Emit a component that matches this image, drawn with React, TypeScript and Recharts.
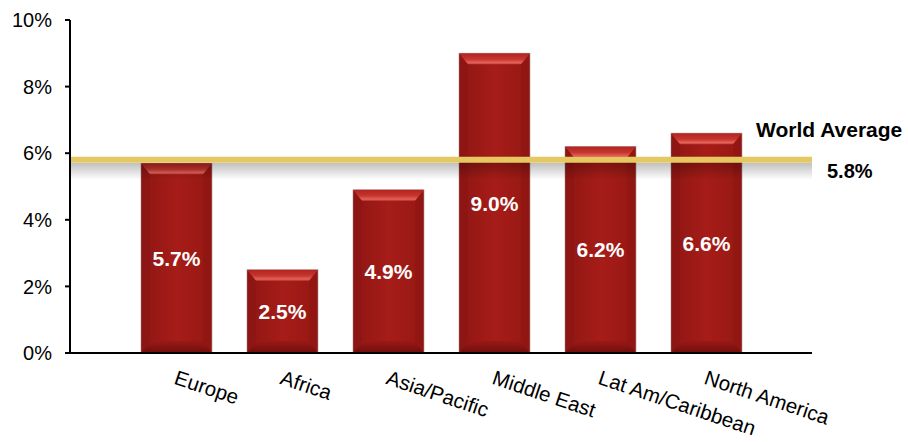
import { Bar, BarChart, LabelList, ReferenceLine, XAxis, YAxis } from 'recharts'

const regions = ['Europe', 'Africa', 'Asia/Pacific', 'Middle East', 'Lat Am/Caribbean', 'North America']
const growth = [5.7, 2.5, 4.9, 9.0, 6.2, 6.6]
const yTicks = [0, 2, 4, 6, 8, 10]
const worldAverage = 5.8
const worldLabel = 'World Average'

const data = regions.map((region, i) => ({ region, value: growth[i] }))

const FONT = '"Liberation Sans", Arial, sans-serif'

// barre rouge biseautée
function BevelBar(props: any) {
  const { x, y, width: w, height: h } = props
  if (!h || h <= 0) return null
  const t = Math.min(11, h / 4)
  const b = Math.min(12, h / 4)
  const s = 9
  return (
    <g>
      <rect x={x} y={y} width={w} height={h} fill="url(#barBody)" stroke="#c4c4c4" strokeWidth={1} />
      <polygon
        points={`${x},${y} ${x + s},${y + t} ${x + s},${y + h - b} ${x},${y + h}`}
        fill="#8c1512"
        opacity={0.7}
      />
      <polygon
        points={`${x + w},${y} ${x + w - s},${y + t} ${x + w - s},${y + h - b} ${x + w},${y + h}`}
        fill="#8c1512"
        opacity={0.55}
      />
      <polygon
        points={`${x},${y} ${x + w},${y} ${x + w - s},${y + t} ${x + s},${y + t}`}
        fill="url(#bevelTop)"
      />
      <polygon
        points={`${x},${y + h} ${x + w},${y + h} ${x + w - s},${y + h - b} ${x + s},${y + h - b}`}
        fill="url(#bevelBottom)"
      />
    </g>
  )
}

function CategoryTick(props: any) {
  const { x, y, payload } = props
  const top = y + 16
  const left = x + 2
  return (
    <text
      x={left}
      y={top}
      dy="0.75em"
      transform={`rotate(18.5, ${left}, ${top})`}
      fill="#000"
      fontSize={20.5}
      fontFamily={FONT}
      textAnchor="start"
    >
      {payload.value}
    </text>
  )
}

function AverageLine(props: any) {
  const { x1, x2, y1 } = props
  return (
    <g>
      <rect x={x1 + 1} y={y1 + 3} width={x2 - x1 - 1} height={17} fill="url(#lineShadow)" />
      <line x1={x1 + 1} x2={x2} y1={y1} y2={y1} stroke="#e6c862" strokeWidth={6} />
      <text x={x2 - 56} y={y1 - 23} fontSize={21} fontWeight="bold" fontFamily={FONT} fill="#000">
        {worldLabel}
      </text>
      <text x={x2 + 15} y={y1 + 18} fontSize={20} fontWeight="bold" fontFamily={FONT} fill="#000">
        {`${worldAverage.toFixed(1)}%`}
      </text>
    </g>
  )
}

export default function App() {
  return (
    <div style={{ position: 'absolute', left: 0, top: 0, width: 908, height: 442, background: '#fff' }}>
      <BarChart width={908} height={442} data={data} margin={{ top: 20, right: 96, bottom: 0, left: 0 }}>
        <defs>
          <linearGradient id="barBody" x1="0" y1="0" x2="1" y2="0">
            <stop offset="0%" stopColor="#8e1613" />
            <stop offset="50%" stopColor="#a61c18" />
            <stop offset="100%" stopColor="#961814" />
          </linearGradient>
          <linearGradient id="bevelTop" x1="0" y1="0" x2="0" y2="1">
            <stop offset="0%" stopColor="#b02420" />
            <stop offset="55%" stopColor="#c7362f" />
            <stop offset="85%" stopColor="#e2625a" />
            <stop offset="100%" stopColor="#c93d36" />
          </linearGradient>
          <linearGradient id="bevelBottom" x1="0" y1="0" x2="0" y2="1">
            <stop offset="0%" stopColor="#9a1915" />
            <stop offset="100%" stopColor="#6f0e0c" />
          </linearGradient>
          <linearGradient id="lineShadow" x1="0" y1="0" x2="0" y2="1">
            <stop offset="0%" stopColor="#000" stopOpacity={0.25} />
            <stop offset="100%" stopColor="#000" stopOpacity={0} />
          </linearGradient>
        </defs>
        <XAxis
          dataKey="region"
          height={89}
          axisLine={{ stroke: '#000', strokeWidth: 2 }}
          tickLine={false}
          tickSize={0}
          tickMargin={0}
          interval={0}
          padding={{ left: 53, right: 53 }}
          tick={<CategoryTick />}
        />
        <YAxis
          width={70}
          domain={[0, 10]}
          ticks={yTicks}
          interval={0}
          axisLine={{ stroke: '#000', strokeWidth: 2 }}
          tickLine={{ stroke: '#000', strokeWidth: 2 }}
          tickSize={5}
          tickMargin={13}
          tickFormatter={(v: number) => `${v}%`}
          tick={{ fill: '#000', fontSize: 20, fontFamily: FONT }}
        />
        <Bar dataKey="value" barSize={71} shape={<BevelBar />} isAnimationActive={false}>
          <LabelList
            dataKey="value"
            position="center"
            formatter={(v: any) => `${Number(v).toFixed(1)}%`}
            fill="#fff"
            fontSize={21}
            fontWeight="bold"
            fontFamily={FONT}
          />
        </Bar>
        <ReferenceLine y={worldAverage} ifOverflow="visible" shape={<AverageLine />} />
      </BarChart>
    </div>
  )
}
